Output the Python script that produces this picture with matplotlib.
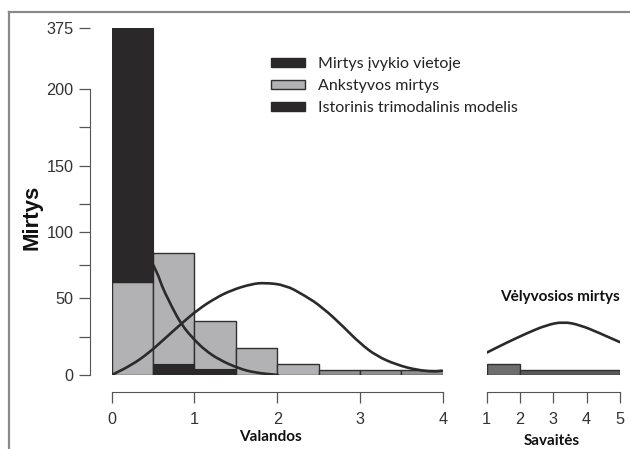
import numpy as np
import matplotlib
matplotlib.use('Agg')
import matplotlib.pyplot as plt
from matplotlib.patches import Patch, PathPatch
from matplotlib.path import Path
from matplotlib.lines import Line2D

# ---------------- data ----------------
# hour histogram, bins of 0.5 h
bin_left = [0.0, 0.5, 1.0, 1.5, 2.0, 2.5, 3.0, 3.5]
early_deaths = [62, 84, 35, 18, 7, 3, 3, 3]
early_colors = ['#b2b2b4'] * 5 + ['#909092'] * 3

# immediate deaths (black), drawn from lo to hi
immediate_left = [0.0, 0.5, 1.0]
immediate_lo = [62, 0, 0]
immediate_hi = [375, 7, 4]

# late deaths, in weeks
week_left = [1, 2]
week_width = [1, 3]
week_deaths = [7, 3]

# trimodal model curves
immediate_curve_x = [0.42, 0.544, 0.624, 0.725, 0.846, 1.0, 1.128, 1.29, 1.53, 1.73, 2.01]
immediate_curve_y = [84, 70.5, 56, 44.4, 32.7, 23, 16.4, 10.3, 4.4, 1.5, 0]
early_curve_x = [0, 0.242, 0.443, 0.645, 0.846, 1.048, 1.249, 1.45, 1.69, 1.85,
                 2.10, 2.32, 2.56, 2.80, 3.0, 3.20, 3.45, 3.69, 3.89, 3.99]
early_curve_y = [0, 6.6, 14.3, 24.1, 33.8, 42.8, 49.8, 56, 60.6, 61.6,
                 59.8, 52.3, 43.4, 31.6, 20.9, 12.5, 6.6, 3.3, 2.2, 2.8]
late_curve_x = [1.0, 1.6, 2.2, 2.8, 3.3, 3.8, 4.4, 5.0]
late_curve_y = [14.7, 21.3, 27.4, 32.7, 34.8, 32.7, 27.4, 21.6]

hour_ticks = [0, 1, 2, 3, 4]
week_ticks = [1, 2, 3, 4, 5]
y_major = [0, 50, 100, 150, 200, 375]
y_minor = [25, 75, 125, 175]

# broken y axis: value -> drawn height (the original is not linear)
y_knots = [0, 25, 50, 75, 100, 125, 150, 175, 200, 375]
y_height = [0, 38, 77, 110, 143, 171, 209, 248, 286, 347]

def fwd(v):
    return np.interp(np.asarray(v, dtype=float), y_knots, y_height)

def inv(h):
    return np.interp(np.asarray(h, dtype=float), y_height, y_knots)

def smooth_path(xs, ys):
    # quadratic bezier through the midpoints, the read points act as controls
    pts = np.column_stack([xs, ys])
    verts = [pts[0]]
    codes = [Path.MOVETO]
    verts.append((pts[0] + pts[1]) / 2)
    codes.append(Path.LINETO)
    for i in range(1, len(pts) - 1):
        verts += [pts[i], (pts[i] + pts[i + 1]) / 2]
        codes += [Path.CURVE3, Path.CURVE3]
    verts.append(pts[-1])
    codes.append(Path.LINETO)
    return Path(verts, codes)

# ---------------- style ----------------
DARK = '#2b2829'
LINE = '#2a2a2a'
AXC = '#555555'
TXT = '#333333'
tick_font = 'Liberation Sans'
text_font = 'Lato'
PX = 0.72  # points per pixel at dpi 100

fig = plt.figure(figsize=(6.3, 4.49), dpi=100)
ax = fig.add_axes([0.1773, 0.1648, 0.5254, 0.7728])
axw = fig.add_axes([0.7725, 0.1648, 0.2116, 0.7728])

for a in (ax, axw):
    a.set_yscale('function', functions=(fwd, inv))
    a.set_ylim(0, 375)
    a.patch.set_alpha(0)
    for s in ('top', 'right'):
        a.spines[s].set_visible(False)

ax.set_xlim(0, 4)
axw.set_xlim(1, 5)

# bars
ax.bar(bin_left, early_deaths, width=0.5, align='edge', color=early_colors,
       edgecolor='#303030', linewidth=1.0, zorder=2)
ax.bar(immediate_left, np.array(immediate_hi) - np.array(immediate_lo),
       bottom=immediate_lo, width=0.5, align='edge', color=DARK,
       edgecolor=DARK, linewidth=0.8, zorder=3)
axw.bar(week_left, week_deaths, width=week_width, align='edge',
        color=['#6e6e6e', '#5a5a5a'], edgecolor='#303030', linewidth=1.0, zorder=2)

# curves
for a, cx, cy in ((ax, immediate_curve_x, immediate_curve_y),
                  (ax, early_curve_x, early_curve_y),
                  (axw, late_curve_x, late_curve_y)):
    a.add_patch(PathPatch(smooth_path(cx, cy), facecolor='none', edgecolor=LINE,
                          lw=1.9, zorder=2.5, capstyle='round', joinstyle='round'))

# left axis
ax.spines['left'].set_position(('outward', 22 * PX))
ax.spines['left'].set_bounds(0, 200)
ax.spines['left'].set_color(AXC)
ax.set_yticks(y_major)
ax.set_yticks(y_minor, minor=True)
ax.set_yticklabels([str(v) for v in y_major])
ax.tick_params(axis='y', which='both', length=11 * PX, width=0.9, color=AXC,
               pad=5 * PX, labelsize=11.7, labelcolor=TXT)

# bottom axes
for a, ticks in ((ax, hour_ticks), (axw, week_ticks)):
    a.spines['bottom'].set_position(('outward', 17 * PX))
    a.spines['bottom'].set_bounds(ticks[0], ticks[-1])
    a.spines['bottom'].set_color(AXC)
    a.set_xticks(ticks)
    a.tick_params(axis='x', length=11 * PX, width=0.9, color=AXC, pad=6.5,
                  labelsize=11.7, labelcolor=TXT)
    for lab in a.get_xticklabels() + a.get_yticklabels():
        lab.set_fontfamily(tick_font)

axw.spines['left'].set_visible(False)
axw.tick_params(axis='y', which='both', left=False, labelleft=False)

# labels
fig.text(32 / 630, 1 - 217 / 449, 'Mirtys', rotation=90, ha='center', va='center',
         fontsize=16, fontweight='bold', family=tick_font, color='#111111')
fig.text(270 / 630, 1 - 437 / 449, 'Valandos', ha='center', va='center',
         fontsize=11, fontweight='bold', family=text_font, color='#111111')
fig.text(552 / 630, 1 - 441 / 449, 'Savaitės', ha='center', va='center',
         fontsize=11, fontweight='bold', family=text_font, color='#111111')
fig.text(560 / 630, 1 - 297 / 449, 'Vėlyvosios mirtys', ha='center', va='center',
         fontsize=11, fontweight='bold', family=text_font, color='#111111')

# legend
handles = [Patch(facecolor=DARK, edgecolor=DARK),
           Patch(facecolor='#b2b2b4', edgecolor='#303030', linewidth=1.0),
           Patch(facecolor=DARK, edgecolor=DARK)]
labels = ['Mirtys įvykio vietoje', 'Ankstyvos mirtys', 'Istorinis trimodalinis modelis']
leg = ax.legend(handles, labels, loc='upper left', bbox_to_anchor=(271 / 630, 1 - 57 / 449),
                bbox_transform=fig.transFigure, frameon=False, fontsize=11.5,
                handlelength=2.12, handleheight=0.44, handletextpad=0.8,
                labelspacing=0.5, borderpad=0, borderaxespad=0)
for t in leg.get_texts():
    t.set_fontfamily(text_font)
    t.set_color('#222222')

# picture frame (top and left edges)
fig.add_artist(Line2D([9 / 630, 1], [1 - 12 / 449, 1 - 12 / 449],
                      transform=fig.transFigure, color='#8a8a8a', lw=1.6))
fig.add_artist(Line2D([9 / 630, 9 / 630], [0, 1 - 12 / 449],
                      transform=fig.transFigure, color='#8a8a8a', lw=1.6))

fig.savefig('out.png', dpi=100)
